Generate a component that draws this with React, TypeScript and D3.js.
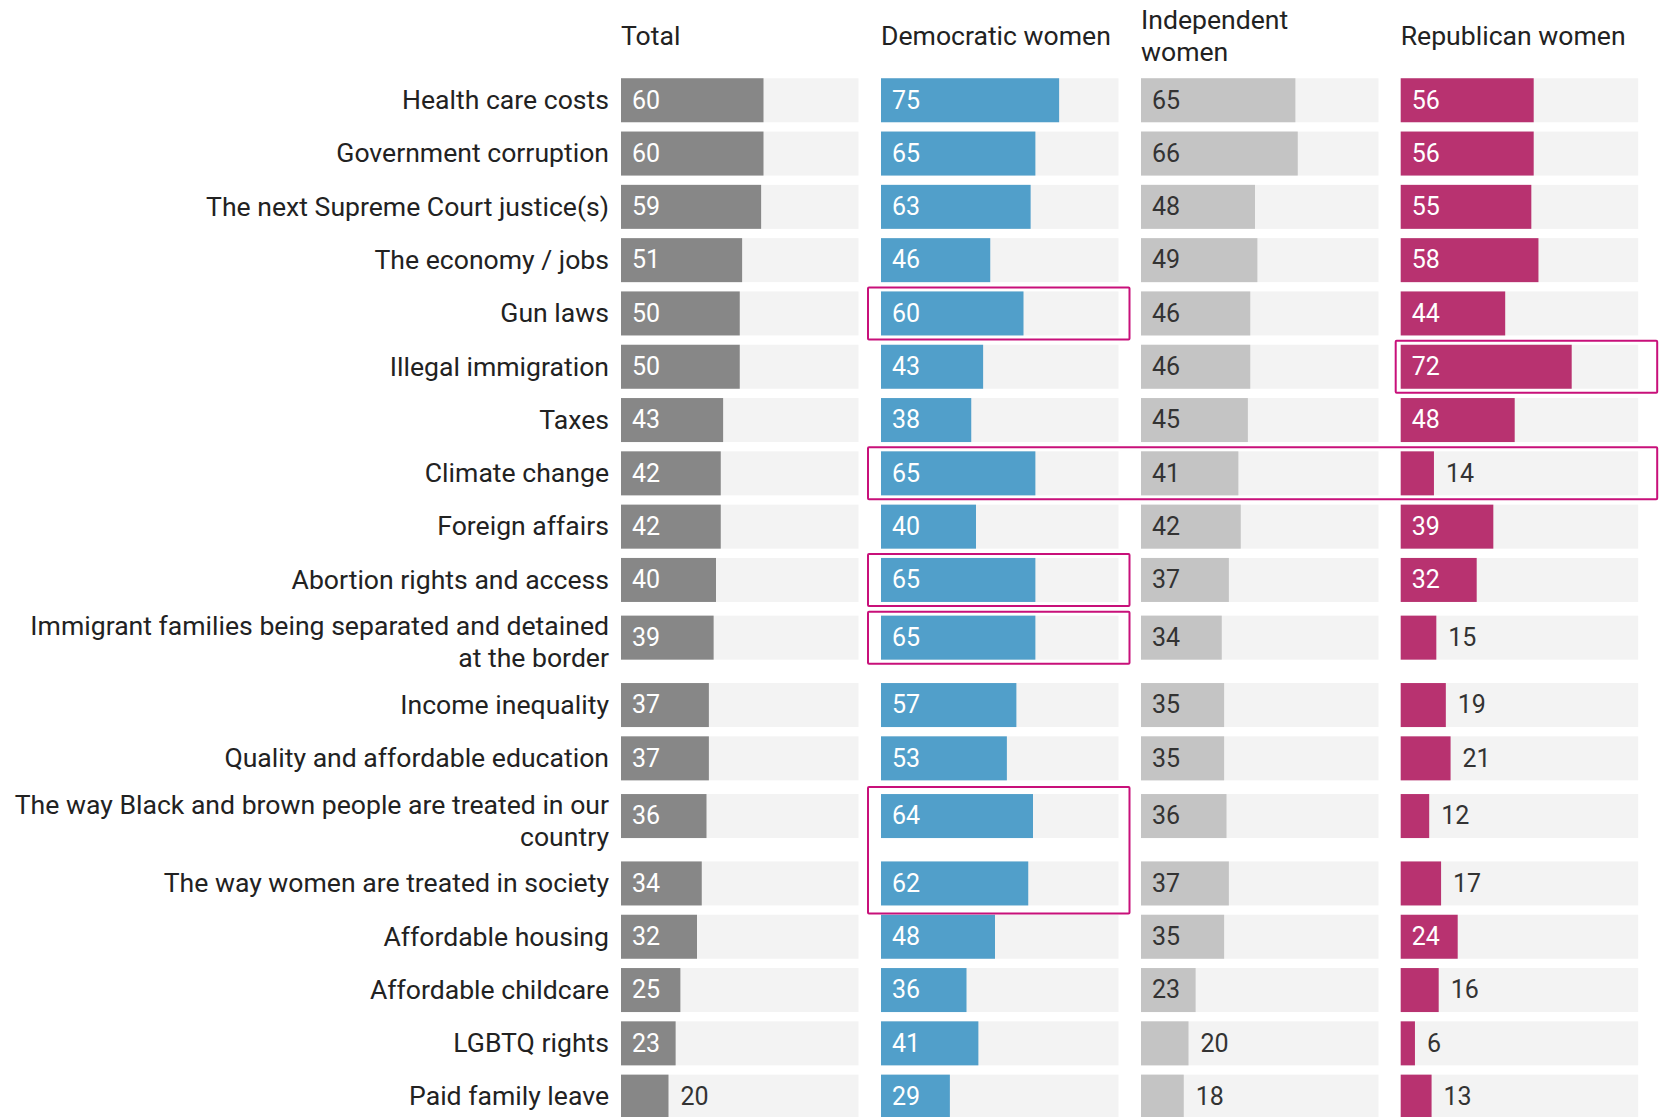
import React from "react";
import * as d3 from "d3";

const categories: string[][] = [
  ["Health care costs"],
  ["Government corruption"],
  ["The next Supreme Court justice(s)"],
  ["The economy / jobs"],
  ["Gun laws"],
  ["Illegal immigration"],
  ["Taxes"],
  ["Climate change"],
  ["Foreign affairs"],
  ["Abortion rights and access"],
  ["Immigrant families being separated and detained", "at the border"],
  ["Income inequality"],
  ["Quality and affordable education"],
  ["The way Black and brown people are treated in our", "country"],
  ["The way women are treated in society"],
  ["Affordable housing"],
  ["Affordable childcare"],
  ["LGBTQ rights"],
  ["Paid family leave"],
];

const seriesNames: string[][] = [
  ["Total"],
  ["Democratic women"],
  ["Independent", "women"],
  ["Republican women"],
];

const totalValues = [60, 60, 59, 51, 50, 50, 43, 42, 42, 40, 39, 37, 37, 36, 34, 32, 25, 23, 20];
const demValues = [75, 65, 63, 46, 60, 43, 38, 65, 40, 65, 65, 57, 53, 64, 62, 48, 36, 41, 29];
const indValues = [65, 66, 48, 49, 46, 46, 45, 41, 42, 37, 34, 35, 35, 36, 37, 35, 23, 20, 18];
const repValues = [56, 56, 55, 58, 44, 72, 48, 14, 39, 32, 15, 19, 21, 12, 17, 24, 16, 6, 13];

const seriesValues = [totalValues, demValues, indValues, repValues];
const seriesColors = ["#878787", "#519fca", "#c4c4c4", "#b83270"];
const insideTextColors = ["#ffffff", "#ffffff", "#333333", "#ffffff"];

// highlighted cells: [firstRow, lastRow, firstColumn, lastColumn]
const highlights: [number, number, number, number][] = [
  [4, 4, 1, 1],
  [5, 5, 3, 3],
  [7, 7, 1, 3],
  [9, 9, 1, 1],
  [10, 10, 1, 1],
  [13, 14, 1, 1],
];

const W = 1663;
const H = 1117;
const FONT = "Roboto, 'Noto Sans', sans-serif";

export default function App() {
  const colStarts = [621, 881, 1141, 1400.7];
  const colWidth = 237.5;
  const x = d3.scaleLinear().domain([0, 100]).range([0, colWidth]);

  const barH = 44;
  const single = 53.3;
  const double = 71.8;
  let slot = 73.6;
  const barTops: number[] = [];
  categories.forEach((c) => {
    const two = c.length > 1;
    barTops.push(slot + (single - barH) / 2 + (two ? 4.4 : 0));
    slot += two ? double : single;
  });

  const labelEnd = 609;

  return (
    <svg
      width={W}
      height={H}
      style={{ position: "absolute", left: 0, top: 0, background: "#fff" }}
      fontFamily={FONT}
    >
      {seriesNames.map((lines, j) => (
        <text key={"h" + j} x={colStarts[j]} fontSize={26.6} fill="#222">
          {lines.length === 1 ? (
            <tspan x={colStarts[j]} y={45}>{lines[0]}</tspan>
          ) : (
            lines.map((l, k) => (
              <tspan key={k} x={colStarts[j]} y={28.5 + k * 32.5}>{l}</tspan>
            ))
          )}
        </text>
      ))}

      {categories.map((lines, i) => {
        const cy = barTops[i] + barH / 2;
        return (
          <g key={"r" + i}>
            <text textAnchor="end" fontSize={26.6} fill="#222">
              {lines.length === 1 ? (
                <tspan x={labelEnd} y={cy} dy="0.33em">{lines[0]}</tspan>
              ) : (
                lines.map((l, k) => (
                  <tspan key={k} x={labelEnd} y={cy - 11 + k * 31.8} dy="0.33em">{l}</tspan>
                ))
              )}
            </text>
            {seriesValues.map((vals, j) => {
              const v = vals[i];
              const w = x(v);
              const inside = w >= 54;
              return (
                <g key={j}>
                  <rect x={colStarts[j]} y={barTops[i]} width={x(100)} height={barH} fill="#f3f3f3" />
                  <rect x={colStarts[j]} y={barTops[i]} width={w} height={barH} fill={seriesColors[j]} />
                  <text
                    x={inside ? colStarts[j] + 11 : colStarts[j] + w + 12}
                    y={cy}
                    dy="0.33em"
                    fontSize={25}
                    fill={inside ? insideTextColors[j] : "#333"}
                  >
                    {v}
                  </text>
                </g>
              );
            })}
          </g>
        );
      })}

      {highlights.map(([r0, r1, c0, c1], k) => {
        const multi = r1 > r0;
        const top = barTops[r0] - (multi ? 7 : 4);
        const bottom = barTops[r1] + barH + (multi ? 8 : 4);
        const left = colStarts[c0] - (c0 === 3 ? 5 : 13);
        const right = colStarts[c1] + x(100) + (c1 === 3 ? 19 : 11);
        return (
          <rect
            key={"hl" + k}
            x={left}
            y={top}
            width={right - left}
            height={bottom - top}
            fill="none"
            stroke="#c8107a"
            strokeWidth={2}
            rx={1}
          />
        );
      })}
    </svg>
  );
}
